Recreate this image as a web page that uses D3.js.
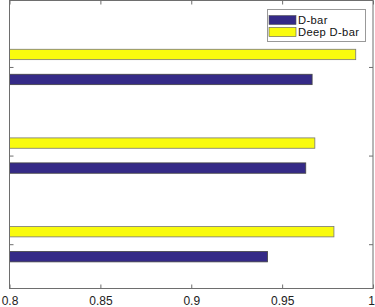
<!DOCTYPE html>
<html>
<head>
<meta charset="utf-8">
<script src="https://cdn.jsdelivr.net/npm/d3@7"></script>
<style>
html,body{margin:0;padding:0;background:#fff;}
svg{display:block;}
text{font-family:"Liberation Sans",Arial,Helvetica,sans-serif;}
</style>
</head>
<body>
<svg id="chart" width="375" height="307"></svg>
<script>
// Data
const categories = [1, 2, 3];            // bottom to top
const seriesNames = ["D-bar", "Deep D-bar"];
const dbar = [0.942, 0.963, 0.9665];
const deepDbar = [0.9785, 0.968, 0.9905];
const xTicks = [0.8, 0.85, 0.9, 0.95, 1];
const xTickLabels = ["0.8", "0.85", "0.9", "0.95", "1"];
const colors = ["#352a87", "#f9fb0e"];

(function () {
const svg = d3.select("#chart");
const mLeft = 9.5, mRight = 373, mTop = 0.5, mBottom = 288.5;

const x = d3.scaleLinear().domain([0.8, 1]).range([mLeft, mRight]);
const y = d3.scaleLinear().domain([0.5, 3.75]).range([mBottom, mTop]);

const barH = 0.117;
const offs = [-0.141, 0.141];
const series = [dbar, deepDbar];

// bars
series.forEach((vals, s) => {
  svg.append("g").selectAll("rect")
    .data(categories)
    .join("rect")
    .attr("x", x(0.8))
    .attr("y", (c) => y(c + offs[s] + barH / 2))
    .attr("width", (c, i) => x(vals[i]) - x(0.8))
    .attr("height", (c) => y(c + offs[s] - barH / 2) - y(c + offs[s] + barH / 2))
    .attr("fill", colors[s])
    .attr("stroke", s === 0 ? "#444" : "#777")
    .attr("stroke-width", 0.8);
});

const axisColor = "#6e6e6e";
const tickLen = 4;

// bottom axis (ticks inward)
const xAxisB = d3.axisBottom(x).tickValues(xTicks)
  .tickFormat((d, i) => xTickLabels[i])
  .tickSizeInner(-tickLen).tickSizeOuter(0).tickPadding(7.5);
const gB = svg.append("g").attr("transform", `translate(0,${mBottom})`).call(xAxisB);
gB.select(".domain").remove();
gB.selectAll("line").attr("stroke", axisColor);
gB.selectAll("text").attr("font-size", 12).attr("fill", "#222")
  .attr("font-family", "'Liberation Sans', Arial, sans-serif")
  .attr("dx", (d, i) => (i === xTicks.length - 1 ? -1.8 : 0));

// top axis ticks
const xAxisT = d3.axisTop(x).tickValues(xTicks).tickFormat("")
  .tickSizeInner(-tickLen).tickSizeOuter(0);
const gT = svg.append("g").attr("transform", `translate(0,${mTop})`).call(xAxisT);
gT.select(".domain").remove();
gT.selectAll("line").attr("stroke", axisColor);

// left and right y ticks (no labels)
const yAxisL = d3.axisLeft(y).tickValues(categories).tickFormat("")
  .tickSizeInner(-tickLen).tickSizeOuter(0);
const gL = svg.append("g").attr("transform", `translate(${mLeft},0)`).call(yAxisL);
gL.select(".domain").remove();
gL.selectAll("line").attr("stroke", axisColor);

const yAxisR = d3.axisRight(y).tickValues(categories).tickFormat("")
  .tickSizeInner(-tickLen).tickSizeOuter(0);
const gR = svg.append("g").attr("transform", `translate(${mRight},0)`).call(yAxisR);
gR.select(".domain").remove();
gR.selectAll("line").attr("stroke", axisColor);

// box
svg.append("rect").attr("x", mLeft).attr("y", mTop)
  .attr("width", mRight - mLeft).attr("height", mBottom - mTop)
  .attr("fill", "none").attr("stroke", axisColor).attr("stroke-width", 1);

// legend
const lg = svg.append("g");
lg.append("rect").attr("x", 267.5).attr("y", 9.5).attr("width", 98).attr("height", 32)
  .attr("fill", "#fff").attr("stroke", "#999").attr("stroke-width", 1);
seriesNames.forEach((name, i) => {
  const yy = 15.5 + i * 12;
  lg.append("rect").attr("x", 269).attr("y", yy).attr("width", 27).attr("height", 9)
    .attr("fill", colors[i]).attr("stroke", "#555").attr("stroke-width", 0.6);
  lg.append("text").attr("x", 298).attr("y", yy + 8.5)
    .attr("font-size", 11.2).attr("letter-spacing", 0.35)
    .attr("fill", "#111").text(name);
});
})();
</script>
</body>
</html>
